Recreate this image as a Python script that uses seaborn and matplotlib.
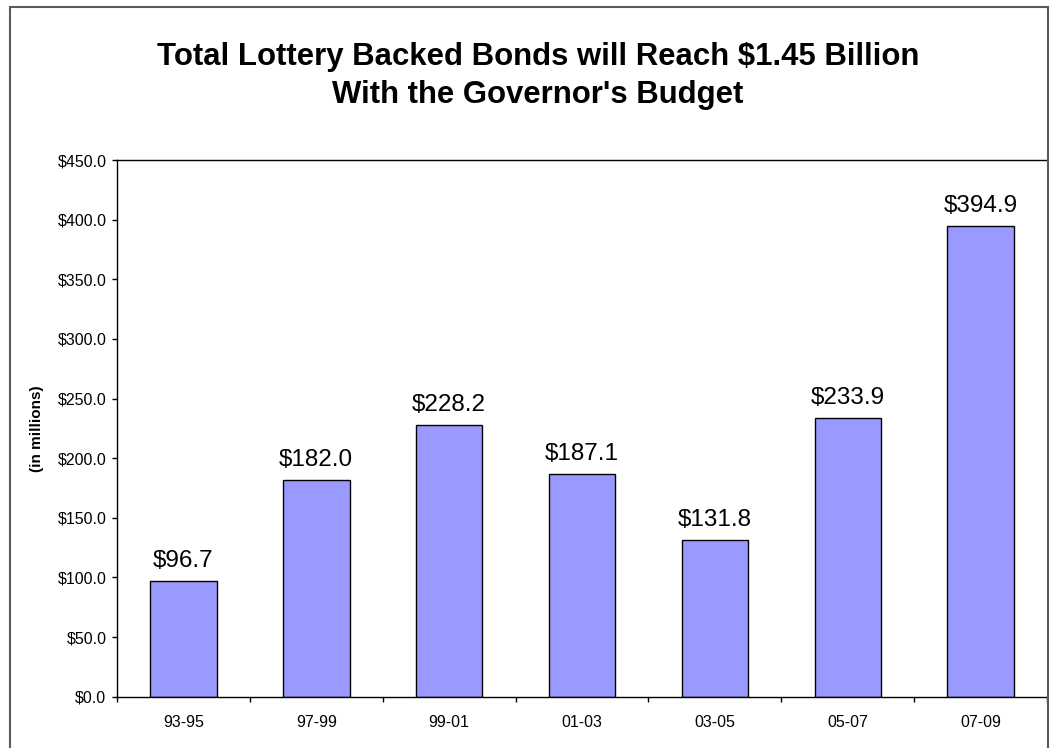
import matplotlib
matplotlib.use("Agg")
import matplotlib.pyplot as plt
from matplotlib.patches import Rectangle
from matplotlib.ticker import FixedLocator, FuncFormatter
import seaborn as sns
import pandas as pd

# Biennium periods and lottery-backed bond totals ($ millions)
periods = ["93-95", "97-99", "99-01", "01-03", "03-05", "05-07", "07-09"]
bond_totals = [96.7, 182.0, 228.2, 187.1, 131.8, 233.9, 394.9]
y_ticks = [0, 50, 100, 150, 200, 250, 300, 350, 400, 450]

title_text = "Total Lottery Backed Bonds will Reach $1.45 Billion\nWith the Governor's Budget"
y_label = "(in millions)"

sns.set_style("white")
plt.rcParams["font.family"] = ["Liberation Sans", "DejaVu Sans"]
plt.rcParams["text.color"] = "black"
plt.rcParams["axes.labelcolor"] = "black"
plt.rcParams["xtick.color"] = "black"
plt.rcParams["ytick.color"] = "black"

df = pd.DataFrame({"period": periods, "total": bond_totals})

fig = plt.figure(figsize=(10.55, 7.48), dpi=100)
ax = fig.add_axes([117 / 1055, 1 - 696.7 / 748, 930 / 1055, 536.7 / 748])

sns.barplot(data=df, x="period", y="total", order=periods, color="#9999FF",
            saturation=1, width=0.5, edgecolor="black", linewidth=1.0, ax=ax)

ax.set_xlim(-0.5, len(periods) - 0.5)
ax.set_ylim(0, 450)
ax.set_xlabel("")
ax.set_ylabel(y_label, fontsize=11, fontweight="bold")
ax.yaxis.set_label_coords(-0.0785, 0.5)

# y axis: dollar ticks
ax.yaxis.set_major_locator(FixedLocator(y_ticks))
ax.yaxis.set_major_formatter(FuncFormatter(lambda v, _: f"${v:.1f}"))
ax.tick_params(axis="y", which="major", direction="out", length=3.6, width=1,
               color="black", labelsize=11.5, pad=4, left=True)

# x axis: labels centred on bars, tick marks between categories
ax.xaxis.set_minor_locator(FixedLocator([i - 0.5 for i in range(len(periods) + 1)]))
ax.tick_params(axis="x", which="major", length=0, labelsize=11.5, pad=13)
ax.tick_params(axis="x", which="minor", direction="out", length=3.6, width=1,
               color="black", bottom=True)

for side in ["left", "bottom", "top"]:
    ax.spines[side].set_visible(True)
    ax.spines[side].set_color("black")
    ax.spines[side].set_linewidth(1.0)
ax.spines["right"].set_visible(False)

# value labels above each bar
for i, v in enumerate(bond_totals):
    ax.annotate(f"${v:.1f}", xy=(i, v), xytext=(0, 10), textcoords="offset points",
                ha="center", va="baseline", fontsize=17.5, color="black")

fig.text(538 / 1055, 1 - 103.3 / 748, title_text, ha="center", va="baseline",
         fontsize=22.4, fontweight="bold", linespacing=1.36, color="black")

# chart frame
fig.patches.append(Rectangle((10 / 1055, -0.05), 1038 / 1055, 1.05 - 7 / 748,
                             transform=fig.transFigure, fill=False,
                             edgecolor="#5a5a5a", linewidth=1.5))

fig.savefig("out.png", dpi=100)
